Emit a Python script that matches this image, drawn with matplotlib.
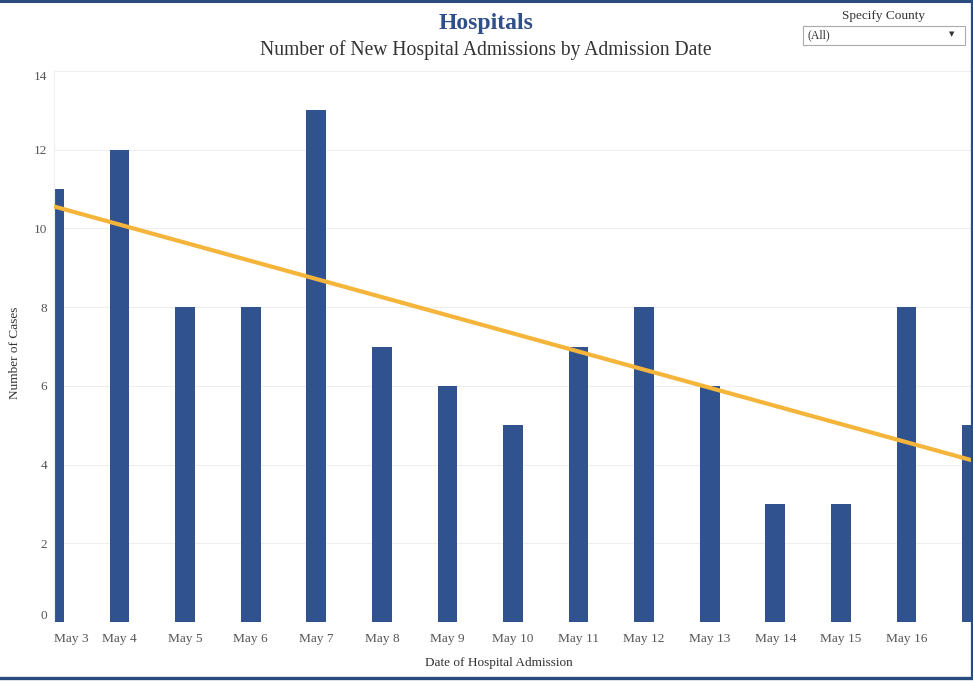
import numpy as np
import matplotlib.pyplot as plt
from matplotlib.patches import Rectangle
from matplotlib.lines import Line2D

# Daily new hospital admissions (May 3 - May 17)
dates = ["May 3", "May 4", "May 5", "May 6", "May 7", "May 8", "May 9", "May 10",
         "May 11", "May 12", "May 13", "May 14", "May 15", "May 16", "May 17"]
admissions = [11, 12, 8, 8, 13, 7, 6, 5, 7, 8, 6, 3, 3, 8, 5]
y_ticks = [0, 2, 4, 6, 8, 10, 12, 14]

bar_color = "#30538F"
trend_color = "#F5B43A"
text_color = "#555555"
title_color = "#2F4F8A"
frame_color = "#2B4A7E"

plt.rcParams['font.family'] = ['Liberation Serif', 'DejaVu Serif']

fig = plt.figure(figsize=(9.73, 6.81), dpi=100)
ax = fig.add_axes([54 / 973, 1 - 622 / 681, 918 / 973, (622 - 71) / 681])

x = np.arange(len(admissions))
ax.bar(x, admissions, width=0.30, color=bar_color, zorder=2)

# Linear trend line fitted to the daily counts
slope, intercept = np.polyfit(x, admissions, 1)
xs = np.array([-0.5, len(admissions) - 0.5])
ax.plot(xs, slope * xs + intercept, color=trend_color, lw=3.0, zorder=3,
        solid_capstyle='butt')

ax.set_xlim(0, 14)
ax.set_ylim(0, 14)

ax.set_yticks(y_ticks)
ax.set_yticklabels([str(t) for t in y_ticks])
ax.yaxis.grid(True, color="#EEEEEE", lw=0.8, zorder=0)
ax.tick_params(axis='y', length=0, pad=5, labelsize=9.5, labelcolor=text_color)
ylabels = ax.get_yticklabels()
ylabels[0].set_verticalalignment('bottom')
ylabels[-1].set_verticalalignment('top')

ax.set_xticks(x[:-1])
ax.set_xticklabels(dates[:-1])
ax.tick_params(axis='x', length=0, pad=8, labelsize=9.6, labelcolor=text_color)
ax.get_xticklabels()[0].set_horizontalalignment('left')

for side in ['right', 'bottom']:
    ax.spines[side].set_visible(False)
ax.spines['left'].set_color("#EEEEEE")
ax.spines['top'].set_color("#EEEEEE")

ax.set_xlabel("Date of Hospital Admission", fontsize=9.5, color="#333333")
ax.xaxis.set_label_coords((499 - 54) / 918, -35 / 551)
ax.set_ylabel("Number of Cases", fontsize=9.5, color="#333333")
ax.yaxis.set_label_coords(-(54 - 21) / 918, (622 - 353) / 551)

# Titles
fig.text(486 / 973, 1 - 23 / 681, "Hospitals", ha='center', va='center',
         fontsize=17, fontweight='bold', color=title_color)
fig.text(486 / 973, 1 - 50.5 / 681, "Number of New Hospital Admissions by Admission Date",
         ha='center', va='center', fontsize=14.15, color="#333333")

# County filter widget
fig.text(884 / 973, 1 - 16 / 681, "Specify County", ha='center', va='center',
         fontsize=9.5, color="#333333")
fig.add_artist(Rectangle((803 / 973, 1 - 45 / 681), 162 / 973, 19 / 681,
                         transform=fig.transFigure, facecolor='white',
                         edgecolor="#AAAAAA", lw=0.8))
fig.text(808 / 973, 1 - 35.5 / 681, "(All)", ha='left', va='center',
         fontsize=8.5, color="#333333")
fig.text(952 / 973, 1 - 34 / 681, "\u25BC", ha='center', va='center',
         fontsize=5, color="#333333", family='DejaVu Sans')

# Dashboard frame
fig.add_artist(Line2D([0, 1], [1 - 1 / 681, 1 - 1 / 681], transform=fig.transFigure,
                      color=frame_color, lw=2.2))
fig.add_artist(Line2D([0, 972 / 973], [1 - 677.5 / 681, 1 - 677.5 / 681],
                      transform=fig.transFigure, color=frame_color, lw=2.4))
fig.add_artist(Line2D([972 / 973, 972 / 973], [1 - 678 / 681, 1], transform=fig.transFigure,
                      color=frame_color, lw=1.6))

fig.savefig("out.png", dpi=100)
